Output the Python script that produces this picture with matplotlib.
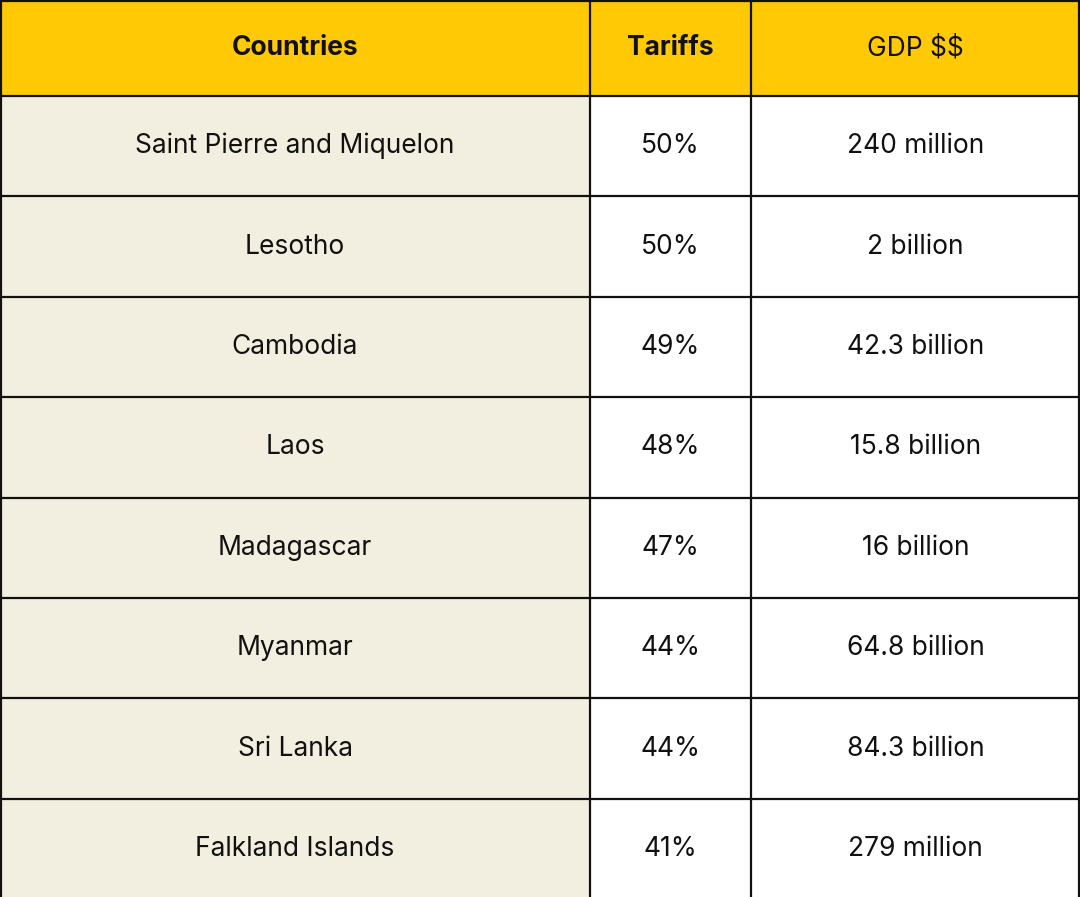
import matplotlib.pyplot as plt
from matplotlib.patches import Rectangle

plt.rcParams['text.parse_math'] = False

headers = ["Countries", "Tariffs", "GDP $$"]
countries = ["Saint Pierre and Miquelon", "Lesotho", "Cambodia", "Laos",
             "Madagascar", "Myanmar", "Sri Lanka", "Falkland Islands"]
tariffs = ["50%", "50%", "49%", "48%", "47%", "44%", "44%", "41%"]
gdp = ["240 million", "2 billion", "42.3 billion", "15.8 billion",
       "16 billion", "64.8 billion", "84.3 billion", "279 million"]

col_edges = [0, 590, 751, 1080]
header_h = 96
row_h = 100.4
W, H = 1080, 897

fig = plt.figure(figsize=(10.8, 8.97), dpi=100)
ax = fig.add_axes([0, 0, 1, 1])
ax.set_xlim(0, W)
ax.set_ylim(H, 0)
ax.axis("off")

# header
ax.add_patch(Rectangle((0, 0), W, header_h, facecolor="#FFC905", edgecolor="none"))
weights = ["bold", "bold", "normal"]
for j, h in enumerate(headers):
    cx = (col_edges[j] + col_edges[j + 1]) / 2
    ax.text(cx, header_h / 2, h, ha="center", va="center", fontsize=19,
            fontweight=weights[j], family="Inter", color="#111111", parse_math=False)

# body
cols = [countries, tariffs, gdp]
for i in range(len(countries)):
    y0 = header_h + i * row_h
    ax.add_patch(Rectangle((0, y0), col_edges[1], row_h, facecolor="#F3EFE0", edgecolor="none"))
    for j, vals in enumerate(cols):
        cx = (col_edges[j] + col_edges[j + 1]) / 2
        ax.text(cx, y0 + row_h / 2, vals[i], ha="center", va="center", fontsize=19,
                family="Inter", color="#111111", parse_math=False)

# grid lines
for i in range(len(countries) + 1):
    y = header_h + i * row_h
    ax.plot([0, W], [y, y], color="#111111", lw=1.6)
ax.plot([0, W], [1, 1], color="#111111", lw=1.6)
for x in col_edges[1:-1]:
    ax.plot([x, x], [0, H], color="#111111", lw=1.6)
ax.plot([1, 1], [0, H], color="#111111", lw=1.6)
ax.plot([W - 1, W - 1], [0, H], color="#111111", lw=1.6)

fig.savefig("out.png", dpi=100)
